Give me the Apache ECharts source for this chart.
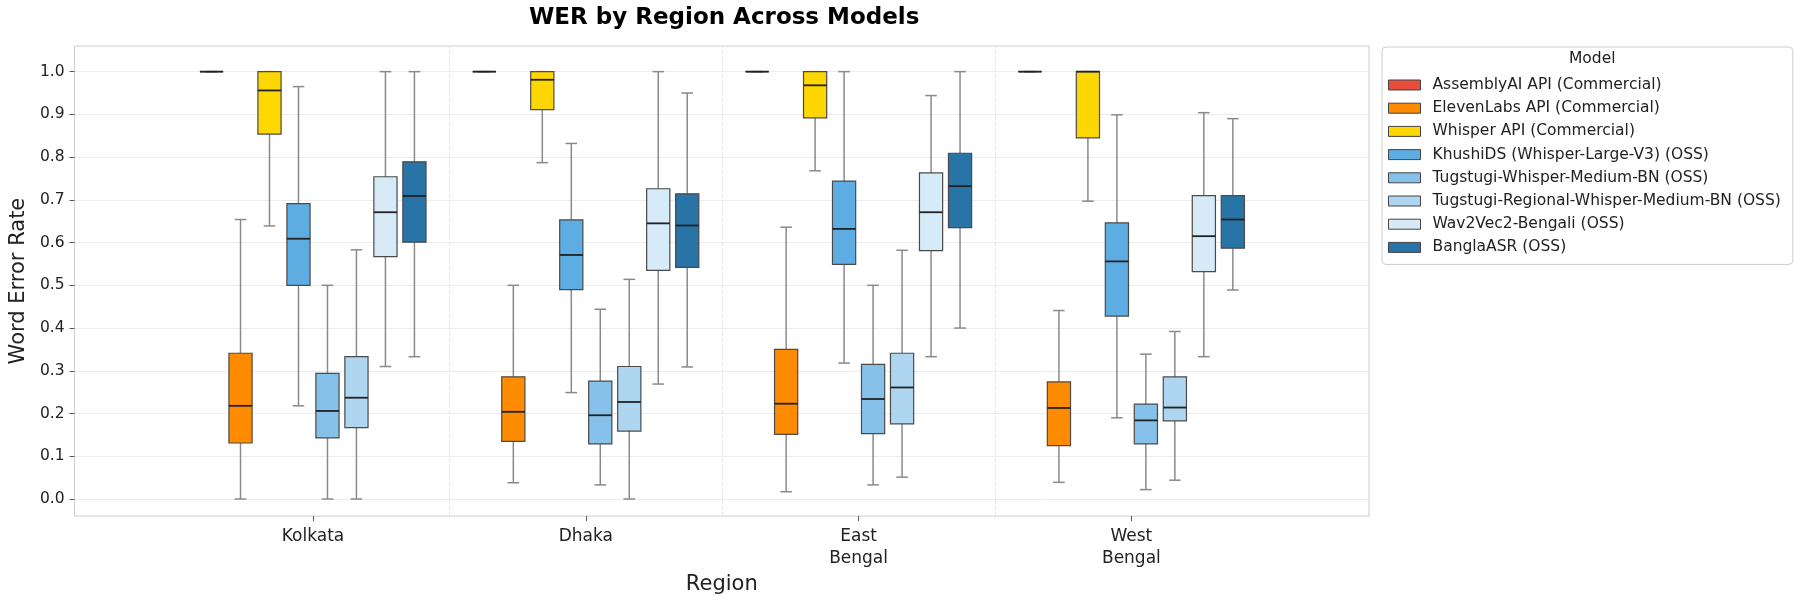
<!DOCTYPE html>
<html lang="en">

<head>
  <meta charset="UTF-8">
  <script src="https://cdn.jsdelivr.net/npm/echarts@6.0.0/dist/echarts.min.js"></script>
  <title>WER by Region</title>
  <style>
    html,
    body,
    main {
      height: 100%;
      width: 100%;
      padding: 0;
      margin: 0;
      background: #fff;
    }
  </style>
</head>

<body>
  <main></main>
</body>
<script>
  // regions on the x axis
  const regions = ['Kolkata', 'Dhaka', 'East Bengal', 'West Bengal']
  const yTicks = [0, 0.1, 0.2, 0.3, 0.4, 0.5, 0.6, 0.7, 0.8, 0.9, 1.0]

  const models = [
    'AssemblyAI API (Commercial)',
    'ElevenLabs API (Commercial)',
    'Whisper API (Commercial)',
    'KhushiDS (Whisper-Large-V3) (OSS)',
    'Tugstugi-Whisper-Medium-BN (OSS)',
    'Tugstugi-Regional-Whisper-Medium-BN (OSS)',
    'Wav2Vec2-Bengali (OSS)',
    'BanglaASR (OSS)'
  ]
  const colors = ['#e74c3c', '#ff8c00', '#ffd700', '#5dade2', '#85c1e9', '#aed6f1', '#d6eaf8', '#2874a6']

  // per region: [min, q1, median, q3, max]
  const assemblyai = [[1, 1, 1, 1, 1], [1, 1, 1, 1, 1], [1, 1, 1, 1, 1], [1, 1, 1, 1, 1]]
  const elevenlabs = [[0.0, 0.131, 0.218, 0.341, 0.654], [0.038, 0.135, 0.204, 0.286, 0.500], [0.017, 0.151, 0.223, 0.350, 0.636], [0.039, 0.125, 0.213, 0.274, 0.441]]
  const whisper = [[0.639, 0.854, 0.956, 1.0, 1.0], [0.787, 0.911, 0.981, 1.0, 1.0], [0.768, 0.892, 0.968, 1.0, 1.0], [0.697, 0.845, 1.0, 1.0, 1.0]]
  const khushids = [[0.218, 0.500, 0.609, 0.691, 0.965], [0.249, 0.490, 0.571, 0.653, 0.832], [0.318, 0.549, 0.632, 0.744, 1.0], [0.190, 0.428, 0.556, 0.646, 0.899]]
  const tugMedium = [[0.0, 0.143, 0.206, 0.294, 0.500], [0.033, 0.129, 0.196, 0.276, 0.444], [0.033, 0.153, 0.234, 0.315, 0.500], [0.022, 0.129, 0.184, 0.222, 0.339]]
  const tugRegional = [[0.0, 0.167, 0.237, 0.333, 0.583], [0.0, 0.159, 0.227, 0.310, 0.514], [0.051, 0.176, 0.261, 0.341, 0.582], [0.044, 0.183, 0.214, 0.286, 0.392]]
  const wav2vec = [[0.310, 0.567, 0.671, 0.754, 1.0], [0.269, 0.535, 0.645, 0.726, 1.0], [0.333, 0.581, 0.671, 0.763, 0.944], [0.333, 0.532, 0.615, 0.710, 0.904]]
  const banglaasr = [[0.333, 0.601, 0.709, 0.789, 1.0], [0.309, 0.542, 0.640, 0.714, 0.950], [0.400, 0.635, 0.732, 0.809, 1.0], [0.489, 0.587, 0.654, 0.710, 0.890]]

  const stats = [assemblyai, elevenlabs, whisper, khushids, tugMedium, tugRegional, wav2vec, banglaasr]

  const FONT = 'DejaVu Sans'

  function renderBox(params, api) {
    const n = models.length
    const x = api.value(0)
    const unit = api.size([1, 0])[0]
    const step = unit * 0.85 / n
    const boxW = step * 0.8
    const capW = boxW / 2
    const off = (params.seriesIndex - (n - 1) / 2) * step
    const cx = api.coord([x, 0])[0] + off
    const y = (i) => api.coord([x, api.value(i)])[1]
    const yMin = y(1), yQ1 = y(2), yMed = y(3), yQ3 = y(4), yMax = y(5)
    const whisker = { stroke: '#8a8a8a', lineWidth: 1.5 }
    const color = colors[params.seriesIndex]
    return {
      type: 'group',
      children: [
        { type: 'line', shape: { x1: cx, y1: yQ1, x2: cx, y2: yMin }, style: whisker },
        { type: 'line', shape: { x1: cx, y1: yQ3, x2: cx, y2: yMax }, style: whisker },
        { type: 'line', shape: { x1: cx - capW / 2, y1: yMin, x2: cx + capW / 2, y2: yMin }, style: whisker },
        { type: 'line', shape: { x1: cx - capW / 2, y1: yMax, x2: cx + capW / 2, y2: yMax }, style: whisker },
        {
          type: 'rect',
          shape: { x: cx - boxW / 2, y: yQ3, width: boxW, height: yQ1 - yQ3 },
          style: { fill: color, stroke: '#4a4a4a', lineWidth: 1.2 }
        },
        { type: 'line', shape: { x1: cx - boxW / 2, y1: yMed, x2: cx + boxW / 2, y2: yMed }, style: { stroke: '#222', lineWidth: 1.8 } }
      ]
    }
  }

  const series = models.map((name, mi) => {
    const s = {
      type: 'custom',
      name: name,
      renderItem: renderBox,
      itemStyle: { color: colors[mi] },
      encode: { x: 0, y: [1, 2, 3, 4, 5] },
      data: stats[mi].map((v, ri) => [ri, ...v])
    }
    if (mi === 0) {
      s.markLine = {
        silent: true,
        symbol: ['none', 'none'],
        label: { show: false },
        lineStyle: { type: 'dashed', color: '#e6e6e6', width: 1 },
        data: regions.slice(1).map((_, i) => ({ xAxis: i + 0.5 }))
      }
    }
    return s
  })

  const option = {
    animation: false,
    textStyle: { fontFamily: FONT },
    title: [
      {
        text: 'WER by Region Across Models',
        left: 524,
        top: 2,
        textStyle: { fontFamily: FONT, fontSize: 23, fontWeight: 'bold', color: '#000' }
      },
      {
        text: 'Model',
        left: 1569,
        top: 51,
        padding: 0,
        textStyle: { fontFamily: FONT, fontSize: 15.5, fontWeight: 'normal', color: '#222' }
      }
    ],
    legend: {
      orient: 'vertical',
      left: 1382,
      top: 47,
      padding: [29, 12, 8, 6],
      itemGap: 5.2,
      itemWidth: 32,
      itemHeight: 10,
      icon: 'rect',
      selectedMode: false,
      borderColor: '#cccccc',
      borderWidth: 1,
      borderRadius: 4,
      backgroundColor: '#fff',
      itemStyle: { borderColor: '#444', borderWidth: 1 },
      textStyle: { fontFamily: FONT, fontSize: 15.5, lineHeight: 18, color: '#222', padding: [0, 0, 0, 7] },
      data: models
    },
    grid: {
      left: 74,
      right: 425,
      top: 46,
      bottom: 82,
      show: true,
      borderColor: '#cccccc',
      borderWidth: 1
    },
    xAxis: {
      type: 'value',
      min: -0.874,
      max: 3.871,
      name: 'Region',
      nameLocation: 'middle',
      nameGap: 51,
      nameTextStyle: { fontFamily: FONT, fontSize: 21, color: '#222' },
      axisLine: { show: false, onZero: false },
      splitLine: { show: false },
      axisTick: { show: true, length: 5, customValues: regions.map((_, i) => i), lineStyle: { color: '#555' } },
      axisLabel: {
        customValues: regions.map((_, i) => i),
        margin: 9,
        fontFamily: FONT,
        fontSize: 17,
        lineHeight: 22,
        color: '#222',
        formatter: (v) => regions[Math.round(v)].replace(' ', '\n')
      }
    },
    yAxis: {
      type: 'value',
      min: -0.04,
      max: 1.06,
      name: 'Word Error Rate',
      nameLocation: 'middle',
      nameGap: 43,
      nameTextStyle: { fontFamily: FONT, fontSize: 21, color: '#222' },
      axisLine: { show: false, onZero: false },
      axisTick: { show: true, length: 5, customValues: yTicks, lineStyle: { color: '#555' } },
      axisLabel: {
        customValues: yTicks,
        margin: 10,
        fontFamily: FONT,
        fontSize: 15.5,
        color: '#222',
        formatter: (v) => v.toFixed(1)
      },
      splitLine: { show: true, lineStyle: { color: '#ececec', width: 1 } }
    },
    series: series
  }

  const ins = echarts.init(document.getElementsByTagName('main')[0])
  ins.setOption(option)
</script>

</html>
